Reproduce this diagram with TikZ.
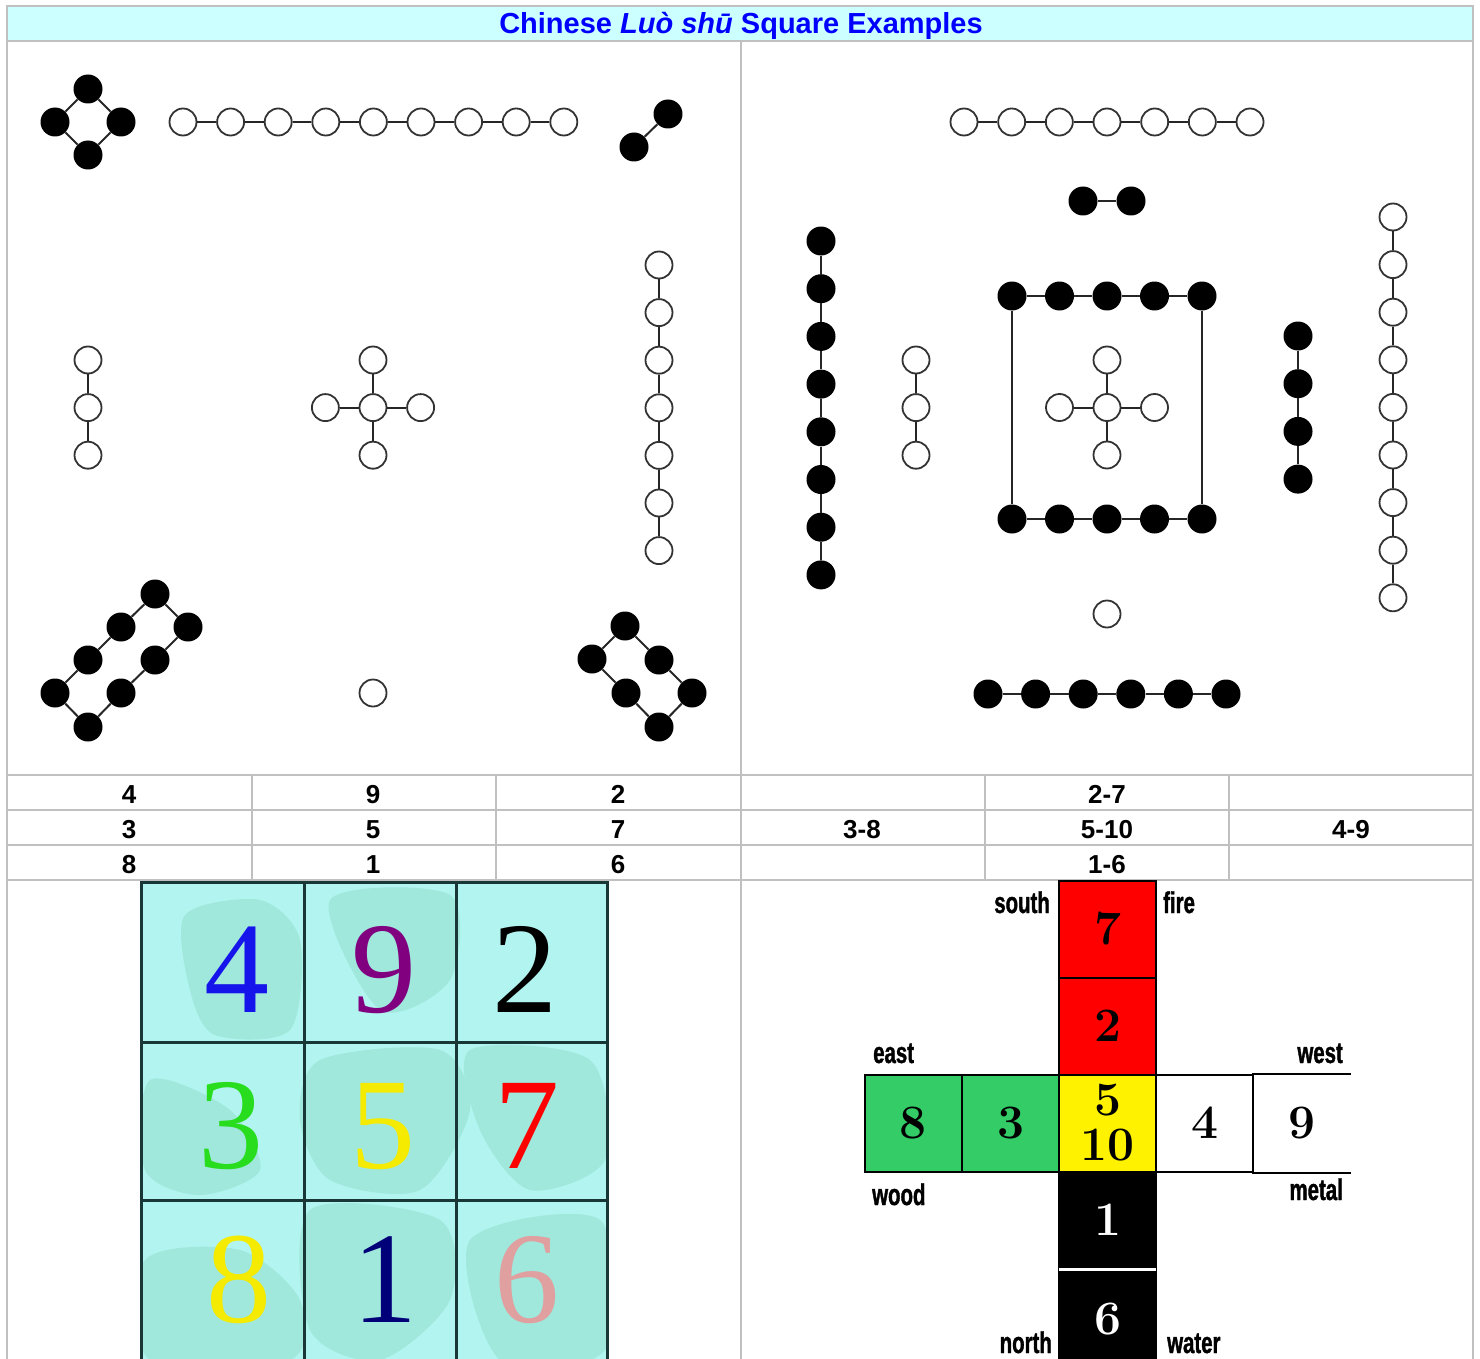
\documentclass[tikz,border=0pt]{standalone}
\usepackage{fontspec}
\newfontfamily\arialfont{Liberation Sans}
\newfontfamily\narrowfont[FakeStretch=0.68,FakeBold=1.2]{Liberation Sans}
\newfontfamily\timesfont{Liberation Serif}
\definecolor{gridgray}{RGB}{192,192,192}
\definecolor{titlecyan}{RGB}{204,255,255}
\definecolor{teallight}{RGB}{178,244,239}
\definecolor{tealdark}{RGB}{160,231,220}
\definecolor{tealline}{RGB}{25,55,55}
\definecolor{woodgreen}{RGB}{51,204,102}
\definecolor{numblue}{RGB}{20,20,235}
\definecolor{numpurple}{RGB}{128,0,128}
\definecolor{numgreen}{RGB}{40,220,30}
\definecolor{numyellow}{RGB}{245,235,0}
\definecolor{numnavy}{RGB}{0,0,120}
\definecolor{numpink}{RGB}{225,160,160}

\begin{document}
\begin{tikzpicture}[x=1pt,y=-1pt,
  bead/.style={circle,fill=black,inner sep=0pt,minimum size=29pt},
  ring/.style={circle,draw=black!80,line width=1.8pt,fill=white,inner sep=0pt,minimum size=27pt},
  link/.style={draw=black!85,line width=2pt},
  tabnum/.style={anchor=base,font=\arialfont\bfseries\fontsize{26}{26}\selectfont},
  bignum/.style={anchor=base,font=\timesfont\fontsize{130}{130}\selectfont},
  crosscell/.style={draw=black,line width=2pt,inner sep=0pt,minimum width=97pt,minimum height=97pt,
    font=\bfseries\fontsize{48}{45}\selectfont,align=center},
  dirlabel/.style={font=\narrowfont\bfseries\fontsize{30}{30}\selectfont,inner sep=0pt}]
  \useasboundingbox (0,0) rectangle (1480,1359);

  % table frame
  \fill[titlecyan] (7,6) rectangle (1473,41);
  \draw[gridgray,line width=2pt] (7,1362) -- (7,6) -- (1473,6) -- (1473,1362);
  \foreach \y in {41,775,810,845,880}
    \draw[gridgray,line width=2pt] (7,\y) -- (1473,\y);
  \draw[gridgray,line width=2pt] (741,41) -- (741,1362);
  \foreach \x in {252,496,985,1229}
    \draw[gridgray,line width=2pt] (\x,775) -- (\x,880);
  \node[anchor=base,text=blue,font=\arialfont\bfseries\fontsize{29}{29}\selectfont] (title) at (741,34)
    {Chinese \textit{Luò shū} Square Examples};

  % left panel: 4
  \node[bead] (a4n) at (88,89) {};
  \node[bead] (a4w) at (55,122) {};
  \node[bead] (a4e) at (121,122) {};
  \node[bead] (a4s) at (88,155) {};
  \draw[link] (a4n) -- (a4w) -- (a4s) -- (a4e) -- (a4n);
  % 9
  \foreach \i in {1,...,9}
    \node[ring] (a9-\i) at ({183+47.6*(\i-1)},122) {};
  \foreach \i [count=\j from 2] in {1,...,8}
    \draw[link] (a9-\i) -- (a9-\j);
  % 2
  \node[bead] (a2a) at (634,147) {};
  \node[bead] (a2b) at (668,114) {};
  \draw[link] (a2a) -- (a2b);
  % 3
  \foreach \i in {1,2,3}
    \node[ring] (a3-\i) at (88,{360+47.6*(\i-1)}) {};
  \draw[link] (a3-1) -- (a3-2) -- (a3-3);
  % 5
  \node[ring] (a5c) at (373,407.6) {};
  \node[ring] (a5n) at (373,360) {};
  \node[ring] (a5s) at (373,455.2) {};
  \node[ring] (a5w) at (325.4,407.6) {};
  \node[ring] (a5e) at (420.6,407.6) {};
  \foreach \d in {n,s,w,e}
    \draw[link] (a5c) -- (a5\d);
  % 7
  \foreach \i in {1,...,7}
    \node[ring] (a7-\i) at (659,{265+47.6*(\i-1)}) {};
  \foreach \i [count=\j from 2] in {1,...,6}
    \draw[link] (a7-\i) -- (a7-\j);
  % 8
  \foreach \x/\y [count=\i] in {155/594,121/627,88/660,55/693,88/727,121/693,155/660,188/627}
    \node[bead] (a8-\i) at (\x,\y) {};
  \draw[link] (a8-1) -- (a8-2) -- (a8-3) -- (a8-4) -- (a8-5) -- (a8-6) -- (a8-7) -- (a8-8) -- (a8-1);
  % 1
  \node[ring] (a1) at (373,693) {};
  % 6
  \foreach \x/\y [count=\i] in {625/626,592/659,626/693,659/727,692/693,659/660}
    \node[bead] (a6-\i) at (\x,\y) {};
  \draw[link] (a6-1) -- (a6-2) -- (a6-3) -- (a6-4) -- (a6-5) -- (a6-6) -- (a6-1);

  % right panel: 2-7
  \foreach \i in {1,...,7}
    \node[ring] (b7-\i) at ({964+47.67*(\i-1)},122) {};
  \foreach \i [count=\j from 2] in {1,...,6}
    \draw[link] (b7-\i) -- (b7-\j);
  \node[bead] (b2a) at (1083,201) {};
  \node[bead] (b2b) at (1131,201) {};
  \draw[link] (b2a) -- (b2b);
  % 3-8
  \foreach \i in {1,...,8}
    \node[bead] (b8-\i) at (821,{241+47.7*(\i-1)}) {};
  \foreach \i [count=\j from 2] in {1,...,7}
    \draw[link] (b8-\i) -- (b8-\j);
  \foreach \i in {1,2,3}
    \node[ring] (b3-\i) at (916,{360+47.6*(\i-1)}) {};
  \draw[link] (b3-1) -- (b3-2) -- (b3-3);
  % 5-10
  \foreach \i in {1,...,5}{
    \node[bead] (bt-\i) at ({1012+47.5*(\i-1)},296) {};
    \node[bead] (bb-\i) at ({1012+47.5*(\i-1)},519) {};
  }
  \foreach \i [count=\j from 2] in {1,...,4}{
    \draw[link] (bt-\i) -- (bt-\j);
    \draw[link] (bb-\i) -- (bb-\j);
  }
  \draw[link] (bt-1) -- (bb-1);
  \draw[link] (bt-5) -- (bb-5);
  \node[ring] (b5c) at (1107,407.5) {};
  \node[ring] (b5n) at (1107,360) {};
  \node[ring] (b5s) at (1107,455) {};
  \node[ring] (b5w) at (1059.5,407.5) {};
  \node[ring] (b5e) at (1154.5,407.5) {};
  \foreach \d in {n,s,w,e}
    \draw[link] (b5c) -- (b5\d);
  % 4-9
  \foreach \i in {1,...,4}
    \node[bead] (b4-\i) at (1298,{336+47.7*(\i-1)}) {};
  \draw[link] (b4-1) -- (b4-2) -- (b4-3) -- (b4-4);
  \foreach \i in {1,...,9}
    \node[ring] (b9-\i) at (1393,{217+47.6*(\i-1)}) {};
  \foreach \i [count=\j from 2] in {1,...,8}
    \draw[link] (b9-\i) -- (b9-\j);
  % 1-6
  \node[ring] (b1) at (1107,614) {};
  \foreach \i in {1,...,6}
    \node[bead] (b6-\i) at ({988+47.6*(\i-1)},694) {};
  \foreach \i [count=\j from 2] in {1,...,5}
    \draw[link] (b6-\i) -- (b6-\j);

  % number rows
  \foreach \n/\x/\y [count=\i] in {4/129/803,9/373/803,2/618/803,3/129/838,5/373/838,7/618/838,
      8/129/873,1/373/873,6/618/873,2-7/1107/803,3-8/862/838,5-10/1107/838,4-9/1351/838,1-6/1107/873}
    \node[tabnum] (t\i) at (\x,\y) {\n};

  % luo shu square
  \begin{scope}
    \clip (141,882) rectangle (607,1362);
    \fill[teallight] (141,882) rectangle (607,1362);
    \fill[tealdark] plot[smooth cycle] coordinates {(185,915) (260,900) (300,940) (290,1030) (215,1035) (190,990)};
    \fill[tealdark] plot[smooth cycle] coordinates {(320,1060) (440,1050) (470,1110) (420,1190) (330,1180) (300,1120)};
    \fill[tealdark] plot[smooth cycle] coordinates {(150,1080) (230,1110) (260,1170) (200,1195) (145,1170)};
    \fill[tealdark] plot[smooth cycle] coordinates {(470,1050) (590,1060) (605,1160) (530,1190) (480,1130)};
    \fill[tealdark] plot[smooth cycle] coordinates {(145,1260) (240,1250) (300,1300) (290,1360) (150,1360)};
    \fill[tealdark] plot[smooth cycle] coordinates {(310,1210) (440,1220) (450,1300) (380,1360) (310,1330)};
    \fill[tealdark] plot[smooth cycle] coordinates {(470,1240) (600,1220) (605,1350) (500,1360)};
    \fill[tealdark] plot[smooth cycle] coordinates {(330,900) (450,895) (450,980) (380,1010)};
  \end{scope}
  \draw[tealline,line width=3pt] (141,1362) -- (141,882) -- (607,882) -- (607,1362);
  \draw[tealline,line width=3pt] (304,882) -- (304,1362) (456,882) -- (456,1362);
  \draw[tealline,line width=3pt] (141,1042) -- (607,1042) (141,1200) -- (607,1200);
  \foreach \n/\x/\y/\c [count=\i] in {4/237/1012/numblue,9/384/1012/numpurple,2/525/1012/black,
      3/231/1168/numgreen,5/383/1168/numyellow,7/527/1168/red,
      8/239/1322/numyellow,1/385/1322/numnavy,6/527/1322/numpink}
    \node[bignum,text=\c] (s\i) at (\x,\y) {\n};

  % five phases cross
  \node[crosscell,fill=red] (c7) at (1107.5,929) {7};
  \node[crosscell,fill=red] (c2) at (1107.5,1026) {2};
  \node[crosscell,fill=yellow] (c5) at (1107.5,1123) {5\\10};
  \node[crosscell,fill=woodgreen] (c8) at (913.5,1123) {8};
  \node[crosscell,fill=woodgreen] (c3) at (1010.5,1123) {3};
  \node[crosscell,fill=white] (c4) at (1204.5,1123) {4};
  \node[crosscell,draw=none] (c9) at (1301.5,1123) {9};
  \draw[line width=2pt] (c9.north west) -- (c9.north east) (c9.south west) -- (c9.south east);
  \node[crosscell,fill=black,text=white] (c1) at (1107.5,1220) {1};
  \node[crosscell,fill=black,text=white] (c6) at (1107.5,1319) {6};
  \draw[white,line width=3pt] ([xshift=1pt]c1.south west) -- ([xshift=-1pt]c1.south east);
  \node[dirlabel,anchor=base east] (south) at (1050,913) {south};
  \node[dirlabel,anchor=base west] (fire) at (1163,913) {fire};
  \node[dirlabel,anchor=base west] (east) at (873,1063) {east};
  \node[dirlabel,anchor=base east] (west) at (1343,1063) {west};
  \node[dirlabel,anchor=base west] (wood) at (872,1205) {wood};
  \node[dirlabel,anchor=base east] (metal) at (1343,1200) {metal};
  \node[dirlabel,anchor=base east] (north) at (1052,1353) {north};
  \node[dirlabel,anchor=base west] (water) at (1167,1353) {water};
\end{tikzpicture}
\end{document}
